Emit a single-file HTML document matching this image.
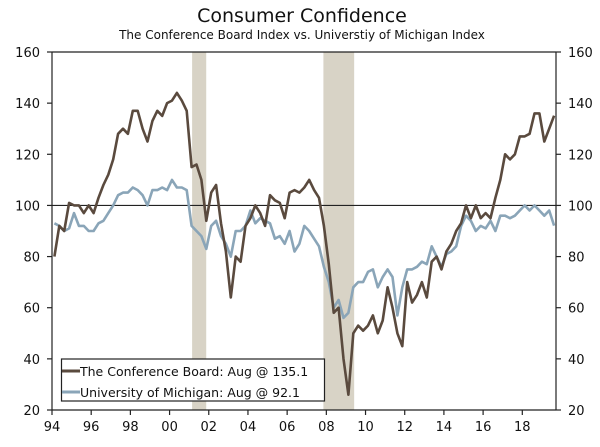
<!DOCTYPE html>
<html><head><meta charset="utf-8"><style>
body{margin:0;background:#fff;}
svg text{font-family:"DejaVu Sans","Liberation Sans",sans-serif;fill:#111;}
</style></head><body>
<svg id="chart" width="600" height="442">
<text x="302" y="22" text-anchor="middle" font-size="19">Consumer Confidence</text>
<text x="302" y="39" text-anchor="middle" font-size="12">The Conference Board Index vs. Universtiy of Michigan Index</text>
<g id="rec"></g><g id="axes"></g><g id="series"></g>
<g>
<rect x="61.5" y="359" width="263" height="42" fill="#fff" stroke="#222" stroke-width="1.2"/>
<line x1="62" y1="371" x2="80" y2="371" stroke="#5a4a3e" stroke-width="3"/>
<text x="80" y="376" font-size="12.5">The Conference Board: Aug @ 135.1</text>
<line x1="62" y1="392" x2="80" y2="392" stroke="#8aa5b8" stroke-width="3"/>
<text x="80" y="397" font-size="12.5">University of Michigan: Aug @ 92.1</text>
</g>
</svg>
<script>
const cb=[80,92,90,101,100,100,97,100,97,103,108,112,118,128,130,128,137,137,130,125,133,137,135,140,141,144,141,137,115,116,110,94,105,108,93,82,64,80,78,92,95,100,97,92,104,102,101,95,105,106,105,107,110,106,103,92,77,58,60,40,26,50,53,51,53,57,50,55,68,60,50,45,70,62,65,70,64,78,80,75,82,85,90,93,100,95,100,95,97,95,103,110,120,118,120,127,127,128,136,136,125,130,135.1];
const um=[93,92,90,91,97,92,92,90,90,93,94,97,100,104,105,105,107,106,104,100,106,106,107,106,110,107,107,106,92,90,88,83,92,94,88,85,80,90,90,92,98,93,95,94,93,87,88,85,90,82,85,92,90,87,84,76,70,60,63,56,58,68,70,70,74,75,68,72,75,72,57,68,75,75,76,78,77,84,80,76,81,82,84,92,96,94,90,92,91,94,90,96,96,95,96,98,100,98,100,98,96,98,92.1];
const recessions=[[2001.15,2001.87],[2007.85,2009.42]];
const yTicks=[20,40,60,80,100,120,140,160];
const xTickLabels=["94","96","98","00","02","04","06","08","10","12","14","16","18"];
const L=52,R=556,T=52,B=410,x0=1994,x1=2019.72;
const X=t=>L+(t-x0)/(x1-x0)*(R-L);
const Y=v=>B-(v-20)/140*(B-T);
const ns="http://www.w3.org/2000/svg";
function mk(tag,a,p){const e=document.createElementNS(ns,tag);for(const k in a)e.setAttribute(k,a[k]);p.appendChild(e);return e;}
const rec=document.getElementById('rec'),ax=document.getElementById('axes'),se=document.getElementById('series');
recessions.forEach(r=>{const e=mk('rect',{x:X(r[0]),y:T,width:X(r[1])-X(r[0]),height:B-T,fill:'#d8d3c6'},rec);

});
const a={stroke:'#222','stroke-width':1.2};
let e=mk('line',Object.assign({x1:L,y1:T,x2:L,y2:B},a),ax);
e=mk('line',Object.assign({x1:R,y1:T,x2:R,y2:B},a),ax);
e=mk('line',Object.assign({x1:L,y1:T,x2:R,y2:T},a),ax);
e=mk('line',Object.assign({x1:L,y1:B,x2:R,y2:B},a),ax);
e=mk('line',Object.assign({x1:L,y1:Y(100),x2:R,y2:Y(100)},a),ax);
yTicks.forEach(v=>{const y=Y(v);
mk('line',Object.assign({x1:L-5,y1:y,x2:L,y2:y},a),ax);mk('line',Object.assign({x1:R,y1:y,x2:R+5,y2:y},a),ax);
let t=mk('text',{x:L-12,y:y+5,'text-anchor':'end','font-size':13},ax);t.textContent=v;


t=mk('text',{x:R+12,y:y+5,'font-size':13},ax);t.textContent=v;

});
xTickLabels.forEach((s,i)=>{const x=X(1994+2*i);
mk('line',Object.assign({x1:x,y1:B,x2:x,y2:B+5},a),ax);
const t=mk('text',{x:x,y:B+21,'text-anchor':'middle','font-size':13},ax);t.textContent=s;

});
function line(d,c,n){const p=d.map((v,i)=>X(1994.125+i*0.25).toFixed(1)+','+Y(v).toFixed(1)).join(' ');
const e=mk('polyline',{points:p,fill:'none',stroke:c,'stroke-width':2.6,'stroke-linejoin':'round'},se);

}
line(um,'#8aa5b8','michigan-line');
line(cb,'#5a4a3e','conference-board-line');
</script>
</body></html>
